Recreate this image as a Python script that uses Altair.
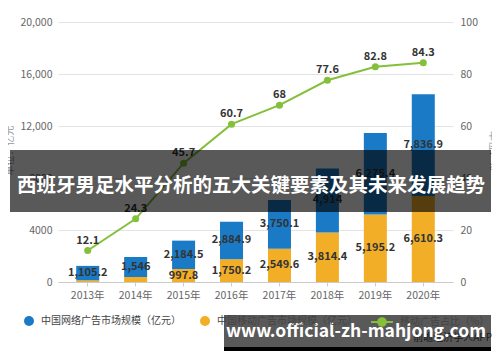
import altair as alt
import pandas as pd

years = ["2013年", "2014年", "2015年", "2016年", "2017年", "2018年", "2019年", "2020年"]
online = [1105.2, 1546, 2184.5, 2884.9, 3750.1, 4914, 6275.4, 7836.9]
mobile = [133.7, 375.7, 997.8, 1750.2, 2549.6, 3814.4, 5195.2, 6610.3]
share = [12.1, 24.3, 45.7, 60.7, 68, 77.6, 82.8, 84.3]

s_online = "中国网络广告市场规模（亿元）"
s_mobile = "中国移动广告市场规模（亿元）"
s_share = "移动广告占比（%）"
banner_text = "西班牙男足水平分析的五大关键要素及其未来发展趋势"
watermark_text = "www.official-zh-mahjong.com"
source_text = "前瞻经济学人APP"

BLUE = "#1a7ac6"
ORANGE = "#f2ae27"
GREEN = "#84c03a"
FONT = "Noto Sans CJK SC"

rows = []
for i, yr in enumerate(years):
    rows.append({"year": yr, "series": s_mobile, "value": mobile[i], "order": 0})
    rows.append({"year": yr, "series": s_online, "value": online[i], "order": 1})
bars_df = pd.DataFrame(rows)
line_df = pd.DataFrame({"year": years, "share": share, "series": s_share})
dummy = pd.DataFrame({"a": [0]})

x_enc = alt.X(
    "year:N", sort=years, title=None,
    scale=alt.Scale(paddingInner=0.52, paddingOuter=0.38),
    axis=alt.Axis(labelAngle=0, labelFontSize=10.5, labelColor="#666", ticks=True,
                  tickColor="#ccc", tickSize=4, domainColor="#ccc", labelPadding=4),
)
y_left_scale = alt.Scale(domain=[0, 20000])

stacked = alt.Chart(bars_df).transform_stack(
    stack="value", groupby=["year"], as_=["y0", "y1"],
    sort=[alt.SortField("order", "ascending")],
).transform_calculate(mid="(datum.y0 + datum.y1) / 2")

bars = stacked.mark_bar().encode(
    x=x_enc,
    y=alt.Y("y0:Q", scale=y_left_scale, title="单位：亿元",
            axis=alt.Axis(values=[0, 4000, 8000, 12000, 16000, 20000],
                          labelExpr="datum.value >= 10000 ? format(datum.value, ',') : '' + datum.value",
                          grid=True, gridColor="#e3e3e3", domain=False, ticks=False,
                          labelFontSize=10.5, labelColor="#666", labelPadding=6,
                          titleFontSize=10, titleColor="#999", titleFontWeight="normal",
                          titleX=-44, titleY=128, titleAngle=-90)),
    y2="y1:Q",
    fill=alt.Fill("series:N",
                  scale=alt.Scale(domain=[s_online, s_mobile], range=[BLUE, ORANGE]),
                  legend=alt.Legend(title=None, orient="none", legendX=-35, legendY=293,
                                    direction="horizontal", symbolType="circle", symbolSize=100,
                                    labelFontSize=10, labelColor="#444", columnPadding=18,
                                    padding=0, labelOffset=6)),
)

bar_labels = stacked.transform_filter("datum.value > 500").mark_text(
    fontWeight="bold", fontSize=11, color="#333"
).encode(
    x=x_enc,
    y=alt.Y("mid:Q", scale=y_left_scale),
    text=alt.Text("value:Q", format=","),
)

y_right = alt.Y("share:Q", scale=alt.Scale(domain=[0, 100]), title="单位：%",
                axis=alt.Axis(orient="right", values=[0, 20, 40, 60, 80, 100], grid=False,
                              domain=False, ticks=False, labelFontSize=10.5, labelColor="#666",
                              labelPadding=7, titleFontSize=10, titleColor="#999",
                              titleFontWeight="normal", titleX=34, titleY=128, titleAngle=90))

line_base = alt.Chart(line_df)
line = line_base.mark_line(strokeWidth=2).encode(
    x=x_enc, y=y_right,
    stroke=alt.Stroke("series:N", scale=alt.Scale(domain=[s_share], range=[GREEN]),
                      legend=alt.Legend(title=None, orient="none", legendX=312, legendY=288,
                                        symbolType="M-1,0L-0.35,0M0.35,0L1,0M-0.35,0a0.35,0.35 0 1,0 0.7,0a0.35,0.35 0 1,0 -0.7,0",
                                        symbolSize=480, symbolStrokeWidth=2,
                                        symbolFillColor=GREEN, labelFontSize=10,
                                        labelColor="#444", padding=0, labelOffset=6)),
)
points = line_base.mark_circle(size=50, opacity=1, color=GREEN).encode(x=x_enc, y=y_right)
line_labels = line_base.mark_text(fontWeight="bold", fontSize=11, color="#333",
                                  baseline="bottom", dy=-5).encode(
    x=x_enc, y=y_right, text=alt.Text("share:Q"))

left = alt.layer(bars, bar_labels)
right = alt.layer(line, points, line_labels)

banner = alt.Chart(dummy).mark_rect(color="#000", opacity=0.65).encode(
    x=alt.value(-48), x2=alt.value(433), y=alt.value(128), y2=alt.value(190))
banner_t = alt.Chart(dummy).mark_text(fontSize=19.5, fontWeight="bold", color="white",
                                      align="center", baseline="middle").encode(
    x=alt.value(193), y=alt.value(164), text=alt.value(banner_text))

source = alt.Chart(dummy).mark_text(fontSize=10, color="#555", align="right",
                                    baseline="middle").encode(
    x=alt.value(434), y=alt.value(316), text=alt.value(source_text))
wm_box = alt.Chart(dummy).mark_rect(color="#000", opacity=0.65).encode(
    x=alt.value(166), x2=alt.value(433), y=alt.value(293), y2=alt.value(325))
wm_strip = alt.Chart(dummy).mark_rect(color="#000", opacity=1).encode(
    x=alt.value(166), x2=alt.value(433), y=alt.value(325), y2=alt.value(329))
wm_t = alt.Chart(dummy).mark_text(fontSize=17.5, fontWeight="bold", color="white",
                                  align="center", baseline="middle").encode(
    x=alt.value(298), y=alt.value(310), text=alt.value(watermark_text))

chart = alt.layer(
    alt.layer(left, right).resolve_scale(y="independent"),
    banner, banner_t, source, wm_box, wm_strip, wm_t,
).properties(
    width=395, height=260,
    padding={"left": 50, "top": 14, "right": 39, "bottom": 80},
    autosize=alt.AutoSizeParams(type="none"),
).configure(font=FONT).configure_view(stroke=None)

chart.save("out.html", embed_options={"renderer": "svg", "actions": False})
